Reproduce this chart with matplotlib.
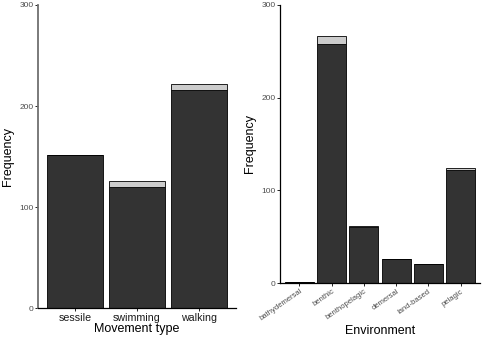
import numpy as np
import matplotlib.pyplot as plt

plt.rcParams['font.family'] = ['Liberation Sans', 'DejaVu Sans']

# ---- data ----
move_types = ['sessile', 'swimming', 'walking']
move_dark = [152, 120, 216]
move_light = [0, 6, 6]

env_types = ['bathydemersal', 'benthic', 'benthopelagic', 'demersal', 'land-based', 'pelagic']
env_dark = [1, 258, 60, 26, 21, 122]
env_light = [0, 8, 2, 0, 0, 2]

dark_col = '#333333'
light_col = '#cccccc'

fig = plt.figure(figsize=(4.83, 3.42), dpi=100)
ax1 = fig.add_axes([0.0787, 0.0985, 0.41, 0.887])
ax2 = fig.add_axes([0.5797, 0.1725, 0.414, 0.813])


def style(ax, n, ymax):
    for s in ['top', 'right']:
        ax.spines[s].set_visible(False)
    for s in ['left', 'bottom']:
        ax.spines[s].set_linewidth(0.9)
        ax.spines[s].set_color('black')
    ax.set_xlim(0.4, n + 0.6)
    ax.set_ylim(0, ymax)
    ax.set_yticks([0, 100, 200, 300])
    ax.tick_params(axis='y', labelsize=6, labelcolor='#4d4d4d', length=2, width=0.6, pad=1)
    ax.tick_params(axis='x', length=2, width=0.6)


def stacked(ax, names, dark, light):
    x = np.arange(1, len(names) + 1)
    ax.bar(x, dark, width=0.9, color=dark_col, edgecolor='black', linewidth=0.6)
    ax.bar(x, light, width=0.9, bottom=dark, color=light_col, edgecolor='black', linewidth=0.6)
    return x


x1 = stacked(ax1, move_types, move_dark, move_light)
style(ax1, len(move_types), 300)
ax1.spines['left'].set_color('#707070')
ax1.spines['left'].set_linewidth(1.3)
ax1.set_xticks(x1)
ax1.set_xticklabels(move_types, fontsize=7.7, color='#1a1a1a')
ax1.tick_params(axis='x', pad=1.5)
ax1.set_xlabel('Movement type', fontsize=9, labelpad=0)
ax1.set_ylabel('Frequency', fontsize=9, labelpad=4)

x2 = stacked(ax2, env_types, env_dark, env_light)
style(ax2, len(env_types), 300)
ax2.set_xticks(x2)
ax2.set_xticklabels(env_types, fontsize=5.5, color='#4d4d4d', rotation=35, ha='right',
                    rotation_mode='anchor')
ax2.tick_params(axis='x', pad=1.5)
ax2.set_xlabel('Environment', fontsize=9, labelpad=2)
ax2.set_ylabel('Frequency', fontsize=9, labelpad=4)

fig.savefig('out.png', dpi=100)
